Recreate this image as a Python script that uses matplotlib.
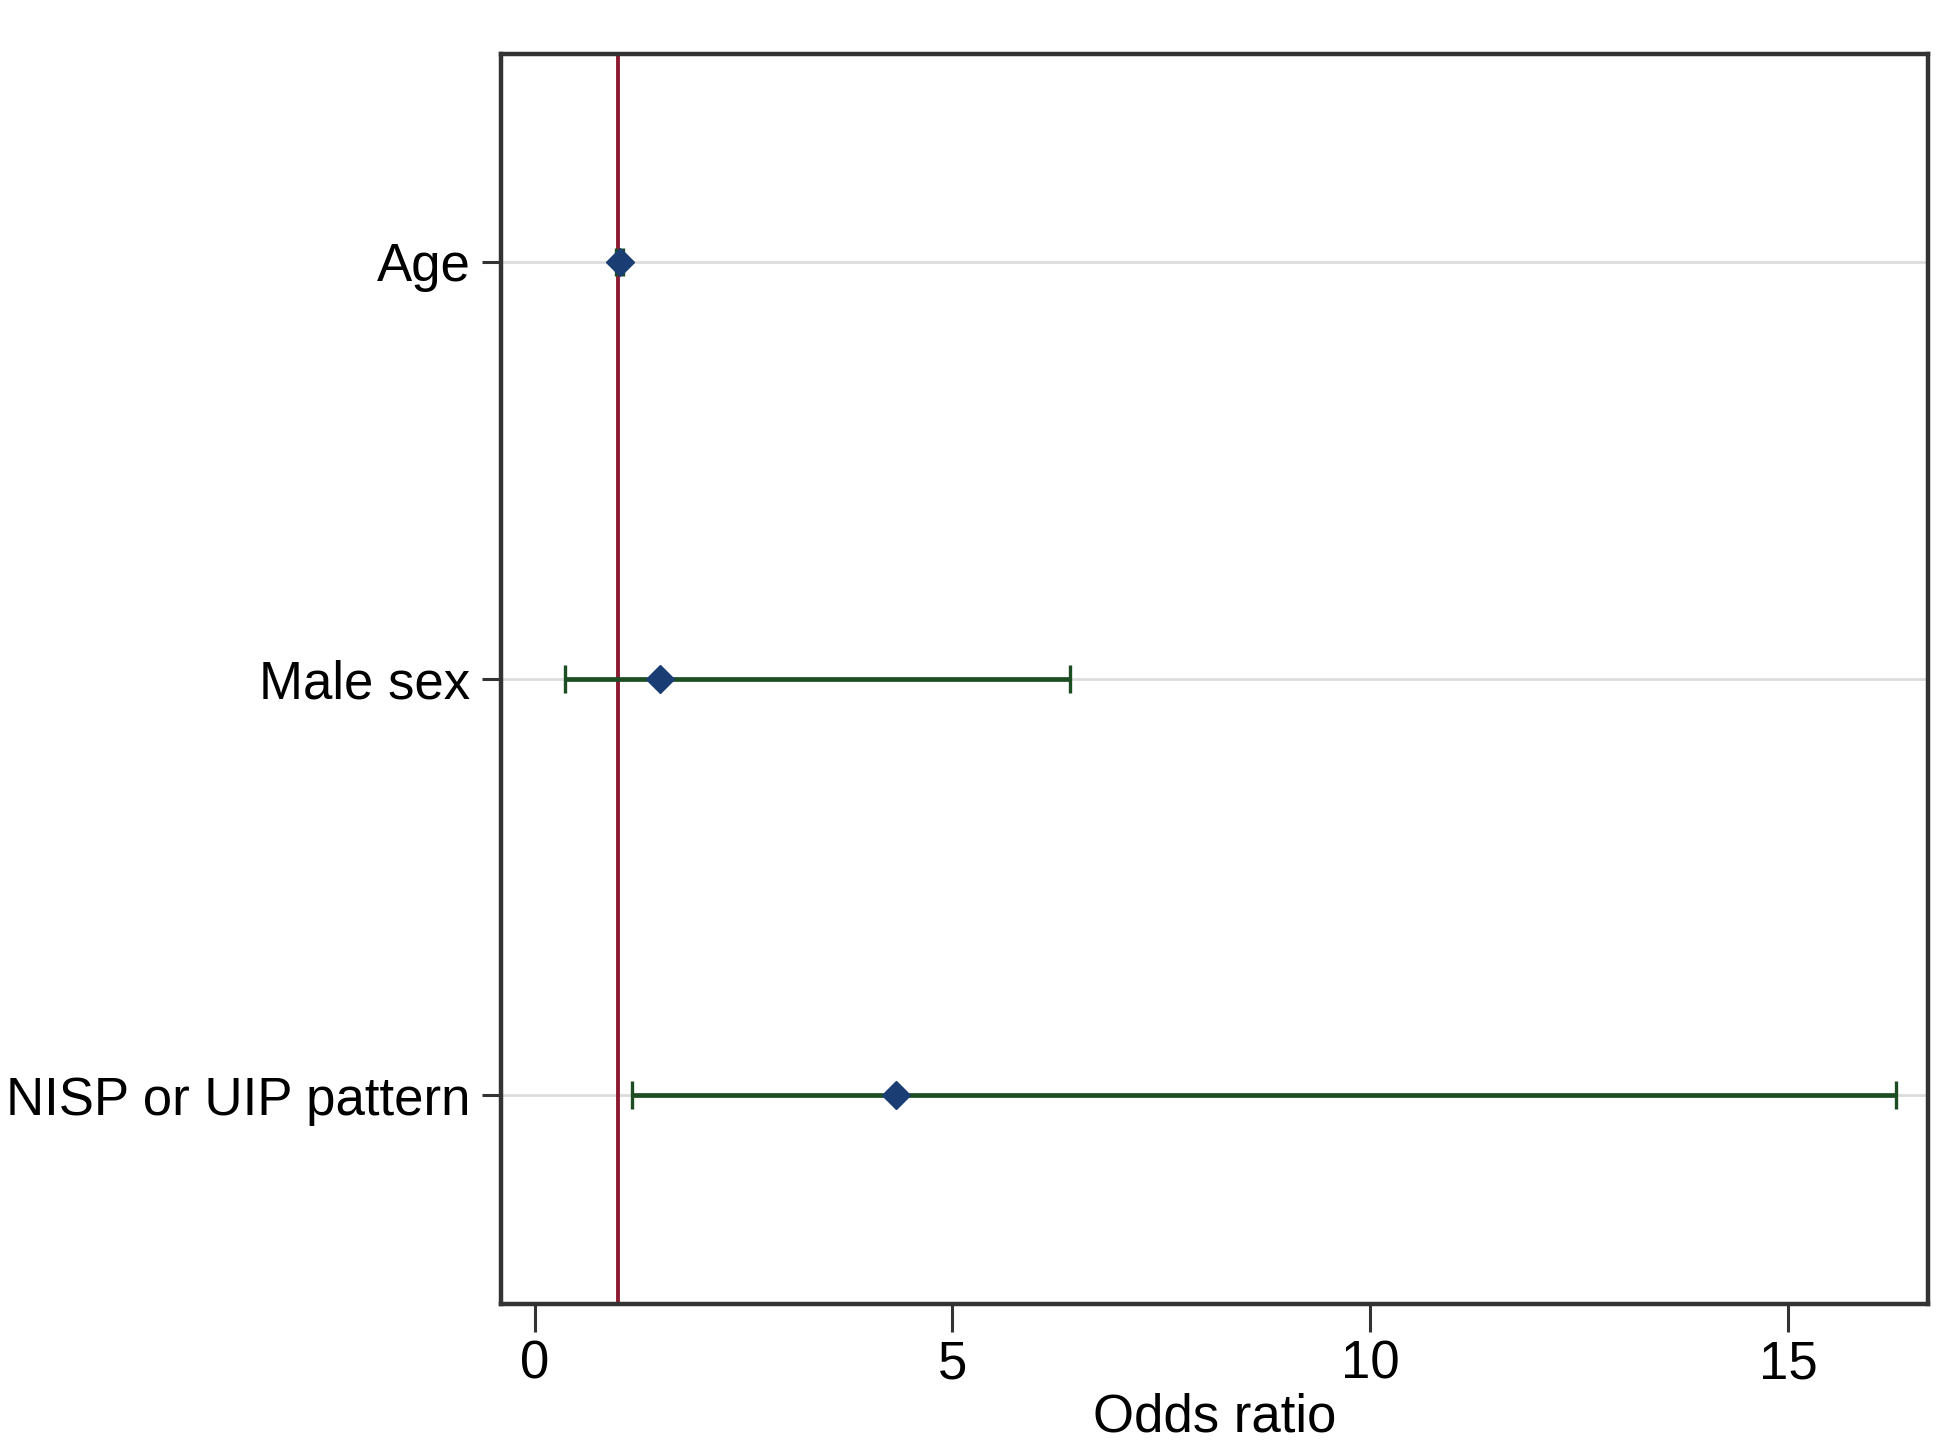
import matplotlib
matplotlib.use("Agg")
import matplotlib.pyplot as plt

plt.rcParams['font.family'] = ['Liberation Sans', 'DejaVu Sans']

labels = ["Age", "Male sex", "NISP or UIP pattern"]
odds = [1.02, 1.50, 4.32]
ci_low = [0.98, 0.37, 1.16]
ci_high = [1.06, 6.41, 16.29]
xticks = [0, 5, 10, 15]

fig = plt.figure(figsize=(19.5, 14.47), dpi=100)
ax = fig.add_axes([0.257, 0.099, 0.7315, 0.864])

ypos = list(range(1, len(labels) + 1))

for y in ypos:
    ax.axhline(y, color='#dcdcdc', linewidth=2.0, zorder=0)

ax.axvline(1, color='#8c1a30', linewidth=2.8, zorder=1)

err_lo = [o - l for o, l in zip(odds, ci_low)]
err_hi = [h - o for o, h in zip(odds, ci_high)]
ax.errorbar(odds, ypos, xerr=[err_lo, err_hi], fmt='none', ecolor='#1d4d23',
            elinewidth=3.4, capsize=10, capthick=2.4, zorder=2)
ax.plot(odds, ypos, linestyle='none', marker='D', markersize=14,
        color='#1a3d73', markeredgecolor='#1a3d73', zorder=3)

ax.set_xlim(-0.4, 16.67)
ax.set_ylim(3.5, 0.5)
ax.set_yticks(ypos)
ax.set_yticklabels(labels)
ax.set_xticks(xticks)
ax.set_xlabel("Odds ratio", fontsize=38, labelpad=2)

ax.tick_params(axis='x', labelsize=38, length=20, width=2.2, pad=6, color='#333333')
ax.tick_params(axis='y', labelsize=38, length=14, width=2.2, pad=8, color='#333333')

for s in ax.spines.values():
    s.set_color('#333333')
    s.set_linewidth(3.2)

fig.savefig("out.png", dpi=100, facecolor='white')
